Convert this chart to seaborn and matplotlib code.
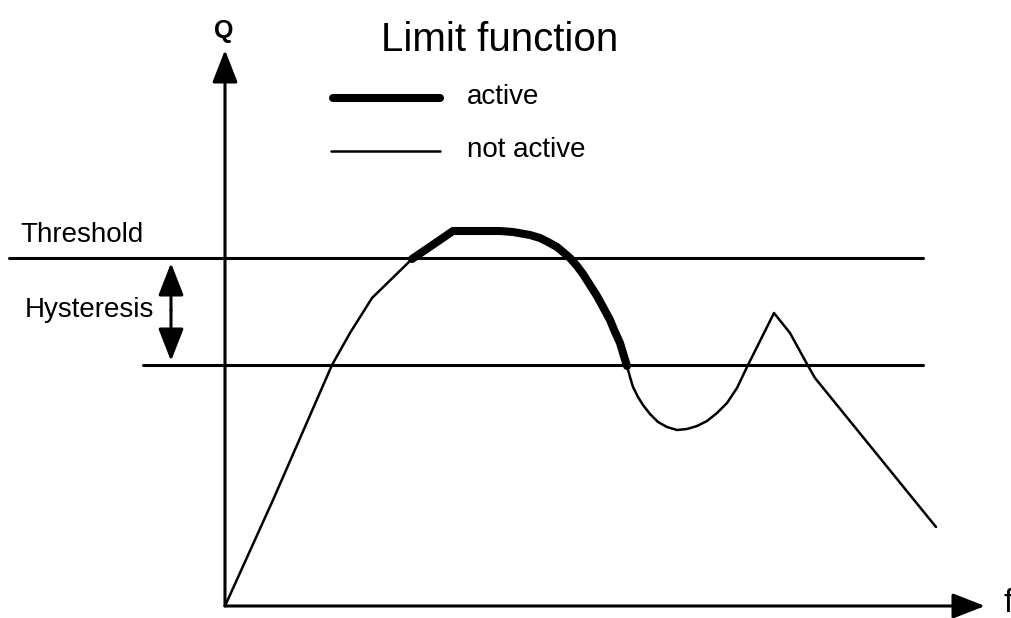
"""Limit function schematic: Q over f with threshold / hysteresis band."""

import matplotlib

matplotlib.use("Agg")

import matplotlib.pyplot as plt
import seaborn as sns

# ── Data (f, Q in pixel-like units, origin at axis crossing) ─────────────

RISE_F = [0, 48, 107, 125, 147, 187]
RISE_Q = [0, 106, 241, 273, 308, 347]

ACTIVE_F = [187, 228, 275, 288, 305, 315, 323, 332, 338, 345, 352, 358,
            365, 372, 378, 385, 390, 395, 398, 402]
ACTIVE_Q = [347, 375, 375, 374, 371, 368, 364, 359, 354, 348, 340, 332,
            321, 310, 299, 286, 274, 263, 253, 240]

TAIL_F = [402, 405, 408, 413, 418, 425, 433, 442, 452, 462, 472, 482,
          492, 502, 512, 522, 532, 542, 549, 565, 582, 590, 711]
TAIL_Q = [240, 229, 219, 209, 201, 192, 184, 179, 176, 177, 180, 185,
          193, 203, 218, 239, 259, 279, 293, 273, 242, 228, 79]

THRESHOLD_Q = 348
RELEASE_Q = 241
THRESHOLD_SPAN = [-216, 698]
RELEASE_SPAN = [-82, 698]

LEGEND_LABELS = ["active", "not active"]

# ── Styling ──────────────────────────────────────────────────────────────

sns.set_style("white")
plt.rcParams["font.family"] = ["Liberation Sans", "DejaVu Sans"]
plt.rcParams["text.color"] = "black"

THIN = 1.8
THICK = 5.8
AXIS_LW = 2.2


def arrow(ax, start, tip, style="-|>"):
    ax.annotate(
        "",
        xy=tip,
        xytext=start,
        arrowprops=dict(
            arrowstyle=f"{style},head_length=20,head_width=7.8",
            mutation_scale=1,
            color="black",
            lw=AXIS_LW,
            shrinkA=0,
            shrinkB=0,
        ),
        annotation_clip=False,
    )


def main() -> None:
    fig = plt.figure(figsize=(10.11, 6.18), dpi=100)
    ax = fig.add_axes([0, 0, 1, 1])
    ax.set_xlim(-225, 786)
    ax.set_ylim(-12, 606)
    ax.axis("off")

    # Axes with arrow heads
    arrow(ax, (0, 0), (0, 556))
    arrow(ax, (0, 0), (760, 0))
    ax.text(-1, 575, "Q", fontsize=18, fontweight="bold", ha="center", va="center")
    ax.text(778, 2, "f", fontsize=24, ha="left", va="center")

    # Threshold and release lines
    sns.lineplot(x=THRESHOLD_SPAN, y=[THRESHOLD_Q] * 2, color="black",
                 linewidth=AXIS_LW, ax=ax, sort=False)
    sns.lineplot(x=RELEASE_SPAN, y=[RELEASE_Q] * 2, color="black",
                 linewidth=AXIS_LW, ax=ax, sort=False)
    ax.text(-205, 371, "Threshold", fontsize=20, ha="left", va="center")
    ax.text(-200, 296, "Hysteresis", fontsize=20, ha="left", va="center")
    arrow(ax, (-54, 296), (-54, THRESHOLD_Q - 5))
    arrow(ax, (-54, 296), (-54, RELEASE_Q + 4))

    # Limit function curve
    sns.lineplot(x=RISE_F, y=RISE_Q, color="black", linewidth=THIN,
                 ax=ax, sort=False)
    sns.lineplot(x=TAIL_F, y=TAIL_Q, color="black", linewidth=THIN,
                 ax=ax, sort=False, solid_joinstyle="round")
    sns.lineplot(x=ACTIVE_F, y=ACTIVE_Q, color="black", linewidth=THICK,
                 ax=ax, sort=False, solid_capstyle="round",
                 solid_joinstyle="round")

    # Hand-drawn legend
    ax.text(275, 566, "Limit function", fontsize=29, ha="center", va="center")
    ax.plot([108, 215], [508, 508], color="black", linewidth=THICK,
            solid_capstyle="round")
    ax.plot([106, 215], [455, 455], color="black", linewidth=THIN)
    ax.text(242, 509, LEGEND_LABELS[0], fontsize=20, ha="left", va="center")
    ax.text(242, 456, LEGEND_LABELS[1], fontsize=20, ha="left", va="center")

    fig.savefig("out.png", dpi=100)
    plt.close(fig)


if __name__ == "__main__":
    main()
